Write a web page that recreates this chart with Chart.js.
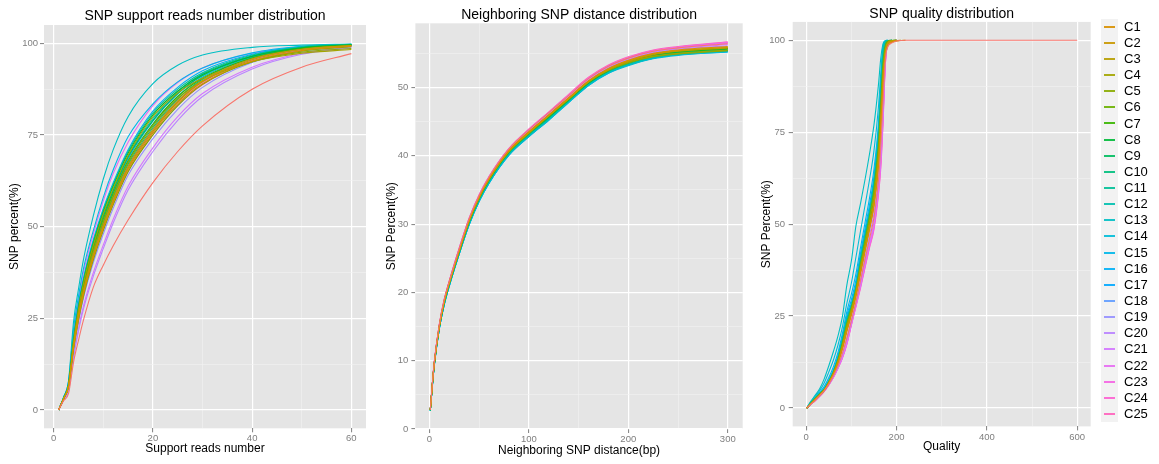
<!DOCTYPE html>
<html>
<head>
<meta charset="utf-8">
<script src="https://cdn.jsdelivr.net/npm/chart.js@4.4.1/dist/chart.umd.min.js"></script>
<style>
  html, body { margin: 0; padding: 0; background: #fff; }
  body { width: 1159px; height: 464px; position: relative; overflow: hidden; font-family: "Liberation Sans", Arial, sans-serif; }
  canvas { position: absolute; top: 0; }
  #legend { position: absolute; left: 1101px; top: 18.6px; }
  #legend .item { height: 16.15px; display: flex; align-items: center; }
  #legend .key { width: 17px; height: 16.15px; background: #f2f2f2; position: relative; }
  #legend .key i { position: absolute; left: 3px; right: 3px; top: 7px; height: 2px; opacity: 0.9; }
  #legend .lab { margin-left: 6px; font-size: 13px; line-height: 16px; color: #000; }
</style>
</head>
<body>
<canvas id="reads" width="370" height="464" style="left:0"></canvas>
<canvas id="dist" width="380" height="464" style="left:370px"></canvas>
<canvas id="qual" width="409" height="464" style="left:750px"></canvas>
<div id="legend"></div>
<script>
// sample names
const series = ["C1","C2","C3","C4","C5","C6","C7","C8","C9","C10","C11","C12","C13",
  "C14","C15","C16","C17","C18","C19","C20","C21","C22","C23","C24","C25"];

// panel 1: support reads number vs SNP percent
const readsX = [1,2,3,4,5,6,8,10,12,15,20,25,30,40,50,60];
const readsPct = [
  [0,3,6.4,16.8,25,31.5,41.5,49.5,56.5,65.5,75.5,83.5,89,95.2,98,99.2],
  [0,3.1,6.6,17.5,26,32.5,42.5,50.5,57.5,66.5,76.5,84.3,89.8,95.8,98.4,99.4],
  [0,3,6.5,17,25.5,32,42,50,57,66,76,84,89.5,95.5,98.3,99.4],
  [0,3.1,6.8,18.5,27.5,34.5,45,53.5,60.5,69.5,80,86.5,90.5,95,97.3,98.3],
  [0,3,6.6,17.8,26.5,33,43.5,51.5,58.5,67.5,77.5,85,89.8,95,97.6,98.6],
  [0,3,6.3,16.5,24.5,31,41,49,56,65,75,83,88.8,95,97.9,99.1],
  [0,3.1,6.7,18,26.8,33.5,44,52,59,68,78,85.5,90.5,96,98.6,99.5],
  [0,3.2,7,19,28,35,45.5,54,61,70,80.5,87,91.5,96.5,98.8,99.6],
  [0,3.1,6.8,18.2,27,34,44.5,52.8,59.8,69,79,86.3,91.2,96.4,98.8,99.6],
  [0,3,6.5,17.2,25.8,32.5,42.8,51,58,67,77,84.8,90.2,96,98.6,99.5],
  [0,3.2,7,19.5,28.5,35.5,46,54.5,61.5,70.5,81,87.5,92,96.8,99,99.7],
  [0,3.1,6.9,18.5,27.3,34.3,44.8,53,60,69.2,79.5,86.8,91.7,96.6,98.9,99.7],
  [0,3.5,8,24,33,41,53,63,71,80,89,94,96.8,98.9,99.5,99.8],
  [0,3,6.6,17.5,26,32.8,43,51.2,58.3,67.5,77.8,85.5,90.8,96.2,98.7,99.6],
  [0,3.4,7.8,22,31,38.5,49,58,65.5,74.5,83.5,89.5,93.3,97.4,99.2,99.8],
  [0,3.3,7.4,20,29,36,46.5,55,62,71,81.5,88,92.5,97,99.1,99.7],
  [0,3.1,6.8,18,26.8,33.6,44,52.2,59.3,68.5,78.8,86.2,91.2,96.4,98.8,99.6],
  [0,3,6.5,17,25.6,32.2,42.4,50.4,57.4,66.5,76.5,84.3,89.8,95.8,98.4,99.4],
  [0,2.9,6.2,16,24,30.5,40.2,48,55,64,74,82,88,94.8,97.9,99.2],
  [0,2.7,5.2,14.2,21.5,27.5,36.5,44,51,60,70.5,79,85.5,93,97,98.8],
  [0,2.7,5.4,14.8,22.2,28.3,37.5,45,52,61,71.5,80,86.3,93.5,97.3,99],
  [0,3.3,7.6,21,30,37.5,48,57,64.5,73,83,89.3,93.3,97.3,99,99.7],
  [0,3,6.4,16.8,25.2,31.8,41.8,49.8,56.8,65.8,75.8,83.8,89.3,95.4,98.2,99.3],
  [0,3.1,6.6,17.4,25.9,32.4,42.4,50.4,57.4,66.4,76.3,84.2,89.7,95.7,98.4,99.4],
  [0,2.9,6.2,16.3,24.5,31,41,49,56,65,75,83,88.7,95.2,98.1,99.3]
];
// the extra (unlabelled) salmon curve
const readsPctExtra = [0,2.5,4.5,13,19,24.5,33.5,39.5,44.8,51.8,62,70.5,77.5,87.5,93.5,97.2];

// panel 2: neighbouring SNP distance vs SNP percent
const distX = [1,3,5,10,15,20,30,40,50,60,80,100,120,140,160,180,200,225,250,300];
const distPct = [
  [2.8,6.5,9.7,15.1,18.8,21.4,26.2,30.6,34.0,36.7,40.8,43.5,46.0,48.5,51.0,52.8,54.0,55.0,55.5,56.0],
  [2.8,6.5,9.6,15.0,18.7,21.4,26.1,30.5,33.9,36.6,40.7,43.4,45.9,48.4,50.9,52.7,53.9,54.9,55.4,55.9],
  [2.8,6.4,9.6,15.0,18.6,21.3,26.0,30.4,33.8,36.5,40.6,43.3,45.8,48.3,50.8,52.6,53.8,54.8,55.3,55.8],
  [2.8,6.5,9.7,15.1,18.8,21.5,26.2,30.6,34.0,36.7,40.8,43.5,45.9,48.4,50.9,52.6,53.7,54.6,55.0,55.5],
  [2.8,6.5,9.6,15.0,18.7,21.4,26.1,30.5,33.9,36.6,40.7,43.4,45.8,48.3,50.8,52.5,53.6,54.5,54.9,55.4],
  [2.8,6.5,9.6,15.0,18.7,21.4,26.1,30.5,33.9,36.6,40.7,43.4,45.9,48.4,50.9,52.7,53.9,54.9,55.4,55.8],
  [2.8,6.4,9.5,14.9,18.6,21.3,26.0,30.4,33.8,36.5,40.6,43.3,45.8,48.3,50.8,52.6,53.8,54.8,55.3,55.7],
  [2.8,6.4,9.5,14.9,18.6,21.3,26.0,30.4,33.8,36.5,40.6,43.3,45.7,48.2,50.7,52.5,53.7,54.7,55.2,55.6],
  [2.7,6.4,9.5,14.9,18.5,21.2,25.9,30.3,33.7,36.4,40.5,43.2,45.6,48.1,50.6,52.4,53.6,54.6,55.1,55.5],
  [2.7,6.4,9.5,14.9,18.5,21.2,25.9,30.3,33.7,36.4,40.5,43.2,45.6,48.2,50.7,52.5,53.7,54.7,55.2,55.7],
  [2.7,6.3,9.4,14.8,18.4,21.1,25.8,30.2,33.6,36.3,40.4,43.1,45.5,48.1,50.6,52.4,53.5,54.5,55.0,55.5],
  [2.7,6.3,9.4,14.8,18.4,21.1,25.8,30.1,33.5,36.2,40.3,43.0,45.4,48.0,50.5,52.3,53.4,54.4,54.9,55.4],
  [2.7,6.3,9.4,14.7,18.3,21.0,25.7,30.0,33.4,36.1,40.2,42.9,45.3,47.9,50.4,52.2,53.3,54.3,54.8,55.3],
  [2.7,6.2,9.3,14.6,18.2,20.9,25.6,29.9,33.3,36.0,40.1,42.8,45.2,47.8,50.3,52.1,53.2,54.2,54.7,55.2],
  [2.7,6.3,9.4,14.7,18.3,21.0,25.7,30.0,33.4,36.1,40.2,42.9,45.3,47.9,50.4,52.2,53.3,54.3,54.8,55.3],
  [2.7,6.2,9.3,14.6,18.2,20.9,25.6,29.9,33.3,36.0,40.1,42.8,45.2,47.8,50.3,52.1,53.3,54.3,54.8,55.2],
  [2.7,6.2,9.3,14.6,18.2,20.9,25.6,29.9,33.3,36.0,40.1,42.8,45.3,47.9,50.4,52.2,53.4,54.4,54.9,55.3],
  [2.7,6.3,9.4,14.7,18.3,21.0,25.7,30.1,33.5,36.2,40.3,43.0,45.4,48.0,50.5,52.3,53.5,54.5,55.0,55.4],
  [2.8,6.4,9.5,14.9,18.5,21.2,25.9,30.3,33.7,36.4,40.5,43.2,45.7,48.2,50.7,52.6,53.8,54.8,55.3,55.8],
  [2.8,6.5,9.6,15.0,18.7,21.4,26.1,30.5,33.9,36.6,40.7,43.5,46.0,48.5,51.0,52.9,54.1,55.1,55.6,56.1],
  [2.8,6.5,9.7,15.1,18.8,21.5,26.3,30.7,34.1,36.8,40.9,43.7,46.2,48.7,51.2,53.0,54.2,55.2,55.7,56.3],
  [2.8,6.6,9.8,15.2,18.9,21.6,26.4,30.8,34.2,36.9,41.0,43.8,46.3,48.8,51.3,53.1,54.3,55.3,55.8,56.5],
  [2.8,6.6,9.8,15.2,18.9,21.6,26.4,30.8,34.2,36.9,41.0,43.8,46.3,48.8,51.3,53.1,54.3,55.3,55.9,56.6],
  [2.8,6.6,9.8,15.3,19.0,21.7,26.5,30.9,34.3,37.0,41.1,43.9,46.4,48.9,51.4,53.2,54.4,55.4,55.9,56.6],
  [2.8,6.6,9.8,15.2,18.9,21.6,26.4,30.8,34.2,36.9,41.0,43.9,46.4,49.0,51.5,53.3,54.5,55.5,56.0,56.7]
];
const distPctExtra = [2.8,6.6,9.8,15.3,19.0,21.6,26.4,30.8,34.2,36.9,41.0,43.8,46.3,48.8,51.3,53.1,54.3,55.3,55.8,56.4];

// panel 3: quality vs SNP percent (curves stop where the data stops)
const qualX = [1,10,20,30,40,50,60,70,80,90,100,110,120,130,140,150,160,165,170,175,180,190,200,210,220,600];
const qualPct = [
  [0,1.1,2.3,3.5,4.8,6.7,9,12,16,20.8,25.3,30.3,36.5,42.5,48.5,55,66,76,88,95.8,98.6,99.5,99.8,99.95,100],
  [0,1.1,2.4,3.6,4.9,6.8,9.2,12.3,16.4,21.3,25.8,30.8,37,43,49,55.5,66.5,76.5,88.5,96.2,99,99.7,99.9,100],
  [0,1.2,2.4,3.6,4.9,6.9,9.3,12.4,16.6,21.5,26,31,37.3,43.3,49.4,56,67,77,89,96.5,99.1,99.8,100],
  [0,1.2,2.5,3.7,5,7,9.5,12.8,17.2,22.4,26.8,31.8,38.4,44.6,50.8,58,69.5,80,91.5,97.5,99.4,99.9,100],
  [0,1.1,2.3,3.5,4.8,6.7,9.1,12.2,16.3,21.1,25.6,30.6,36.8,42.8,48.8,55.3,66.3,76.3,88.3,96.3,99.1,99.8,100],
  [0,1.2,2.5,3.8,5,7.1,9.6,13,17.6,23,27.2,32.2,39,45.5,52,59.5,71.5,82.5,93.5,98.5,99.7,100],
  [0,1.2,2.5,3.7,5,7,9.4,12.6,17,22,26.5,31.5,37.8,44,50,57,68.5,79,91,97.4,99.4,99.9,100],
  [0,1.2,2.4,3.7,4.9,6.9,9.3,12.5,16.8,21.8,26.2,31.2,37.5,43.7,49.8,56.5,68,78.5,90.5,97.2,99.3,99.9,100],
  [0,1.2,2.5,3.8,5,7.1,9.6,12.9,17.4,22.6,27,32,38.6,45,51.3,58.6,70.2,81,92.3,98,99.6,100],
  [0,1.2,2.5,3.7,5,7,9.4,12.7,17.1,22.2,26.6,31.6,38,44.2,50.3,57.3,69,79.5,91.3,97.6,99.5,100],
  [0,1.3,2.6,3.8,5.1,7.2,9.7,13.3,18.2,23.8,27.6,32.6,39.8,46.3,52.8,60.5,73,84,95,99,99.8,100],
  [0,1.3,2.7,3.9,5.1,7.2,9.8,13.5,18.5,24.3,28,33,40.5,47,53.5,61.5,74.5,86,97,99.5,100],
  [0,1.8,3.5,5.3,8,11.5,15.3,19.5,24.8,33.5,40,49.5,55.5,62,69,77,88,95,99,99.9,100],
  [0,1.6,3.2,4.8,6.9,9.8,13,17,22,28.5,34,41,48,55,62,70,82,91,98.5,99.8,100],
  [0,1.4,2.9,4.3,5.9,8.3,11.2,15,20.2,26.3,31,36.5,43.5,50.3,57,65,77.5,88,97.5,99.6,100],
  [0,1.4,2.8,4.1,5.5,7.7,10.4,14.2,19.3,25.2,29.5,34.8,42,48.6,55.2,63,76,87,97.2,99.5,100],
  [0,1.3,2.7,4,5.3,7.4,10,13.7,18.8,24.6,28.5,33.6,41,47.6,54,62,75,86.5,97,99.5,100],
  [0,1.3,2.6,3.9,5.1,7.2,9.7,13.3,18.2,23.9,27.7,32.8,40,46.4,52.8,60.5,73.5,84.5,95.5,99.2,99.9,100],
  [0,1.2,2.5,3.7,5,7,9.4,12.8,17.3,22.6,26.8,31.8,38.5,44.8,51,58.2,70,81,92.5,98,99.6,100],
  [0,1.1,2.2,3.4,4.7,6.5,8.7,11.5,15,19.3,24,29,35,41,47,53,63,72,84,95,98.8,99.7,100],
  [0,1.0,2.1,3.3,4.7,6.4,8.5,11,14,18,23.2,28.2,33.6,39.3,45,50.5,60.5,68.5,80.5,94,98.8,99.8,100],
  [0,1.0,2.0,3.2,4.6,6.3,8.3,10.8,13.7,17.6,22.8,27.8,33,38.6,44.2,49.5,59.2,66.8,78.8,93.5,98.8,99.8,100],
  [0,1.0,2.1,3.3,4.6,6.4,8.4,10.9,13.9,17.9,23,28,33.3,39,44.6,50,60,67.5,79.5,93.8,98.8,99.8,100],
  [0,1.0,2.0,3.2,4.6,6.3,8.3,10.7,13.5,17.3,22.5,27.5,32.5,38,43.5,48.5,58,65,77,93,98.8,99.8,100],
  [0,1.0,2.0,3.2,4.6,6.3,8.3,10.8,13.6,17.5,22.7,27.7,32.8,38.3,43.8,49,58.6,65.8,78,93.3,98.8,99.8,100]
];
const qualPctExtra = [0,1.0,2.1,3.4,4.7,6.5,8.7,11.4,14.8,19,23.8,28.8,34.5,40.3,46,51.8,62,71,83,94.5,98,99.3,99.8,99.95,100,100];

// axis breaks (major ones get labels, minor ones only a faint grid line)
const readsXMajor = [0,20,40,60],   readsXMinor = [10,30,50];
const readsYMajor = [0,25,50,75,100], readsYMinor = [12.5,37.5,62.5,87.5];
const distXMajor = [0,100,200,300], distXMinor = [50,150,250];
const distYMajor = [0,10,20,30,40,50], distYMinor = [5,15,25,35,45,55];
const qualXMajor = [0,200,400,600], qualXMinor = [100,300,500];
const qualYMajor = [0,25,50,75,100], qualYMinor = [12.5,37.5,62.5,87.5];

// ggplot-like hue palette (hcl, c=100, l=65)
function hcl(h, c, l) {
  const hr = h * Math.PI / 180;
  const U = c * Math.cos(hr), V = c * Math.sin(hr);
  const Y = Math.pow((l + 16) / 116, 3);
  const up = U / (13 * l) + 0.1978398, vp = V / (13 * l) + 0.4683363;
  const X = Y * 9 * up / (4 * vp);
  const Z = Y * (12 - 3 * up - 20 * vp) / (4 * vp);
  const rgb = [
    3.240479 * X - 1.537150 * Y - 0.498535 * Z,
    -0.969256 * X + 1.875992 * Y + 0.041556 * Z,
    0.055648 * X - 0.204043 * Y + 1.057311 * Z
  ];
  return "#" + rgb.map(v => {
    v = v <= 0.0031308 ? 12.92 * v : 1.055 * Math.pow(v, 1 / 2.4) - 0.055;
    return Math.round(Math.max(0, Math.min(1, v)) * 255).toString(16).padStart(2, "0");
  }).join("");
}
const colors = series.map((s, k) => hcl(15 + 12 * (k + 3), 100, 65));
const extraColor = hcl(15, 100, 65);

Chart.defaults.font.family = "'Liberation Sans', Arial, sans-serif";
Chart.defaults.color = "#000";

const panelBg = {
  id: "panelBg",
  beforeDraw(chart) {
    const a = chart.chartArea, ctx = chart.ctx;
    ctx.save();
    ctx.fillStyle = "#e5e5e5";
    ctx.fillRect(a.left, a.top, a.right - a.left, a.bottom - a.top);
    ctx.restore();
  }
};

function line(xs, ys, color, label) {
  return {
    label,
    data: xs.map((x, i) => ({ x, y: ys[i] === undefined ? null : ys[i] })),
    borderColor: color,
    borderWidth: 1.1,
    pointRadius: 0,
    fill: false,
    cubicInterpolationMode: "monotone",
    spanGaps: false
  };
}

function axis(o) {
  const all = o.major.concat(o.minor).sort((a, b) => a - b);
  const isMajor = ctx => ctx.tick && o.major.includes(ctx.tick.value);
  return {
    type: "linear",
    min: o.min, max: o.max,
    afterBuildTicks: ax => { ax.ticks = all.map(v => ({ value: v })); },
    afterFit: ax => { if (o.width) ax.width = o.width; if (o.height) ax.height = o.height; },
    ticks: {
      autoSkip: false, maxRotation: 0,
      padding: o.tickPad,
      color: "#7f7f7f",
      font: { size: 9.5 },
      callback: v => o.major.includes(v) ? String(v) : ""
    },
    grid: {
      color: c => isMajor(c) ? "#ffffff" : "#f2f2f2",
      lineWidth: c => isMajor(c) ? 1.2 : 0.6,
      tickColor: c => isMajor(c) ? "#7f7f7f" : "rgba(0,0,0,0)",
      tickWidth: 1,
      tickLength: 4
    },
    border: { display: false },
    title: {
      display: true, text: o.title, color: "#000",
      font: { size: 12 },
      padding: o.titlePad
    }
  };
}

function panel(id, p) {
  const sets = [line(p.xs, p.extra, extraColor, "")]
    .concat(p.rows.map((ys, k) => line(p.xs, ys, colors[k], series[k])));
  return new Chart(document.getElementById(id), {
    type: "line",
    data: { datasets: sets },
    plugins: [panelBg],
    options: {
      responsive: false,
      animation: false,
      devicePixelRatio: 1,
      layout: { padding: { left: 0, top: 0, bottom: 0, right: p.padRight } },
      plugins: {
        legend: { display: false },
        tooltip: { enabled: false },
        title: {
          display: true, text: p.title, color: "#000", fullSize: false,
          font: { size: 14, weight: "normal", lineHeight: 1 },
          padding: p.titlePad
        }
      },
      scales: { x: p.x, y: p.y }
    }
  });
}

panel("reads", {
  xs: readsX, rows: readsPct, extra: readsPctExtra,
  title: "SNP support reads number distribution",
  titlePad: { top: 9.5, bottom: 1.5 }, padRight: 4,
  x: axis({ min: -1.95, max: 62.95, major: readsXMajor, minor: readsXMinor, height: 35.7,
            tickPad: 0.6, title: "Support reads number", titlePad: { top: 0, bottom: 8.5 } }),
  y: axis({ min: -5, max: 105, major: readsYMajor, minor: readsYMinor, width: 44,
            tickPad: 2, title: "SNP percent(%)", titlePad: { top: 7.8, bottom: 0 } })
});

panel("dist", {
  xs: distX, rows: distPct, extra: distPctExtra,
  title: "Neighboring SNP distance distribution",
  titlePad: { top: 8, bottom: 1.3 }, padRight: 7.3,
  x: axis({ min: -14, max: 315, major: distXMajor, minor: distXMinor, height: 35,
            tickPad: 0.9, title: "Neighboring SNP distance(bp)", titlePad: { top: 0, bottom: 6.1 } }),
  y: axis({ min: 0, max: 59.4, major: distYMajor, minor: distYMinor, width: 45.4,
            tickPad: 3, title: "SNP Percent(%)", titlePad: { top: 14.5, bottom: 0 } })
});

panel("qual", {
  xs: qualX, rows: qualPct, extra: qualPctExtra,
  title: "SNP quality distribution",
  titlePad: { top: 7, bottom: 0.9 }, padRight: 68.3,
  x: axis({ min: -30, max: 630, major: qualXMajor, minor: qualXMinor, height: 37.6,
            tickPad: 0.9, title: "Quality", titlePad: { top: 0, bottom: 10.1 } }),
  y: axis({ min: -5, max: 105, major: qualYMajor, minor: qualYMinor, width: 42.7,
            tickPad: 3.7, title: "SNP Percent(%)", titlePad: { top: 9.5, bottom: 0 } })
});

// legend of the sample colours
const legendEl = document.getElementById("legend");
series.forEach((name, k) => {
  const row = document.createElement("div");
  row.className = "item";
  row.innerHTML = '<span class="key"><i style="background:' + colors[k] + '"></i></span><span class="lab">' + name + "</span>";
  legendEl.appendChild(row);
});
</script>
</body>
</html>
